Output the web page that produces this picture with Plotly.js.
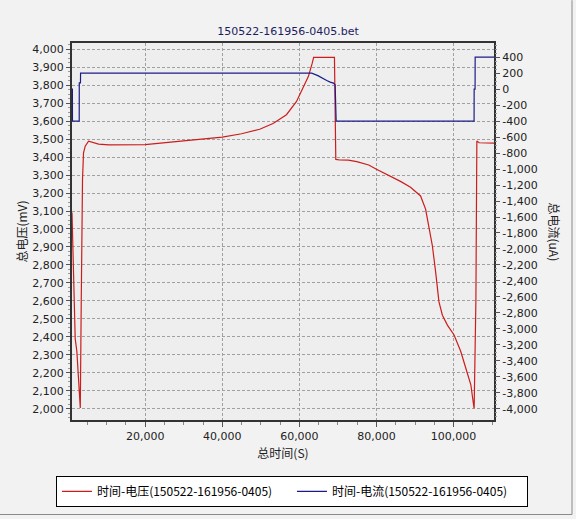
<!DOCTYPE html>
<html>
<head>
<meta charset="utf-8">
<script src="https://cdn.plot.ly/plotly-3.0.1.min.js"></script>
<style>
body { margin: 0; background: #f2f2f2; }
#chart { width: 576px; height: 519px; }
</style>
</head>
<body>
<div id="chart"></div>
<script>
// voltage curve (mV)
var voltTime = [1000, 1250, 1350, 1830, 2260, 2690, 3000, 3150, 3400, 3570,
    3730, 3990, 4430, 5290, 7900, 10600, 20000, 30600, 40000, 45000,
    49700, 53170, 56650, 59260, 61000, 62320, 63300, 63700, 69100, 69450,
    70500, 72700, 74900, 78000, 80000, 83500, 86230, 88840, 91450, 92750,
    93620, 94500, 95360, 96220, 97110, 98410, 100140, 101880, 103190, 104490,
    105190, 105350, 105800, 106050, 106650, 110500];
var voltValue = [3092, 2900, 2740, 2390, 2318, 2188, 2080, 2004, 2600, 3000,
    3277, 3424, 3461, 3489, 3472, 3468, 3470, 3492, 3511, 3530,
    3555, 3587, 3636, 3710, 3793, 3848, 3920, 3955, 3955, 3387,
    3384, 3383, 3375, 3356, 3332, 3295, 3265, 3232, 3184, 3111,
    3018, 2908, 2760, 2594, 2520, 2465, 2410, 2318, 2225, 2133,
    2022, 2002, 2600, 3489, 3480, 3478];

// current curve (uA)
var currTime = [1000, 1100, 1120, 2870, 2890, 3200, 3220, 63200, 64800, 66230,
    67100, 68000, 68840, 69280, 69540, 105330, 105350, 105590, 105610, 110500];
var currValue = [0, 0, -400, -400, 80, 80, 200, 200, 170, 138,
    109, 88, 76, 55, -400, -400, 0, 0, 400, 400];

var currTicks = [400, 200, 0, -200, -400, -600, -800, -1000, -1200, -1400, -1600,
    -1800, -2000, -2200, -2400, -2600, -2800, -3000, -3200, -3400, -3600, -3800, -4000];
var currTickText = currTicks.map(function (v) { return v.toLocaleString('en-US'); });

var cjk = 'Noto Sans CJK SC, sans-serif';

var data = [
    {
        x: voltTime, y: voltValue,
        type: 'scatter', mode: 'lines',
        name: '时间-电压(150522-161956-0405)',
        line: {color: '#cc1d1d', width: 1.2}
    },
    {
        x: currTime, y: currValue,
        type: 'scatter', mode: 'lines', yaxis: 'y2',
        name: '时间-电流(150522-161956-0405)',
        line: {color: '#1c1c88', width: 1.2}
    }
];

var layout = {
    width: 576, height: 519,
    paper_bgcolor: '#f2f2f2',
    plot_bgcolor: '#eeeeee',
    margin: {l: 72, r: 82, t: 43, b: 97},
    font: {family: 'DejaVu Sans', size: 11, color: '#222'},
    title: {
        text: '150522-161956-0405.bet',
        font: {family: 'DejaVu Sans', size: 11, color: '#1c1c60'},
        x: 0.5, xref: 'container', y: 1 - 31 / 519, yref: 'container', yanchor: 'middle'
    },
    showlegend: true,
    legend: {
        orientation: 'h', x: -0.038, xanchor: 'left', y: -0.148, yanchor: 'top',
        entrywidth: 190, entrywidthmode: 'pixels',
        bgcolor: '#ffffff', bordercolor: '#000000', borderwidth: 1,
        font: {family: cjk, size: 12, color: '#000'}
    },
    xaxis: {
        range: [1000, 110500], tick0: 0, dtick: 20000, tickformat: ',d',
        showgrid: true, gridcolor: '#a0a0a0', griddash: '3px,2px', zeroline: false,
        showline: true, linecolor: '#333', linewidth: 2, mirror: true,
        ticks: 'outside', ticklen: 5, tickcolor: '#555',
        minor: {dtick: 5000, ticks: 'outside', ticklen: 3, tickcolor: '#888', showgrid: false},
        automargin: false,
        title: {text: '总时间(S)', font: {family: cjk, size: 12, color: '#222'}, standoff: 7}
    },
    yaxis: {
        range: [1937, 4035], tick0: 0, dtick: 100, tickformat: ',d',
        showgrid: true, gridcolor: '#a0a0a0', griddash: '3px,2px', zeroline: false,
        showline: true, linecolor: '#333', linewidth: 2, mirror: true,
        ticks: 'outside', ticklen: 4, tickcolor: '#555',
        minor: {dtick: 25, ticks: 'outside', ticklen: 2, tickcolor: '#999', showgrid: false},
        automargin: false,
        title: {text: '总电压(mV)', font: {family: cjk, size: 12, color: '#222'}}
    },
    yaxis2: {
        overlaying: 'y', side: 'right', range: [-4141, 578],
        tickvals: currTicks, ticktext: currTickText,
        showgrid: false, zeroline: false, showline: false,
        ticks: 'outside', ticklen: 5, tickcolor: '#555',
        minor: {dtick: 50, ticks: 'outside', ticklen: 2, tickcolor: '#999', showgrid: false},
        automargin: false
    },
    annotations: [{
        text: '总电流(uA)', textangle: 90, showarrow: false,
        xref: 'paper', yref: 'paper', x: (554 - 72) / 422, y: 0.5,
        xanchor: 'center', yanchor: 'middle',
        font: {family: cjk, size: 12, color: '#222'}
    }],
    shapes: [
        {type: 'line', xref: 'paper', yref: 'paper', x0: (572 - 72) / 422, x1: (572 - 72) / 422,
            y0: (422 - 517) / 379, y1: 422 / 379, line: {color: '#8a8a8a', width: 1}},
        {type: 'line', xref: 'paper', yref: 'paper', x0: -72 / 422, x1: (572 - 72) / 422,
            y0: (422 - 517) / 379, y1: (422 - 517) / 379, line: {color: '#8a8a8a', width: 1}}
    ]
};

Plotly.newPlot('chart', data, layout, {staticPlot: true, displayModeBar: false});
</script>
</body>
</html>
